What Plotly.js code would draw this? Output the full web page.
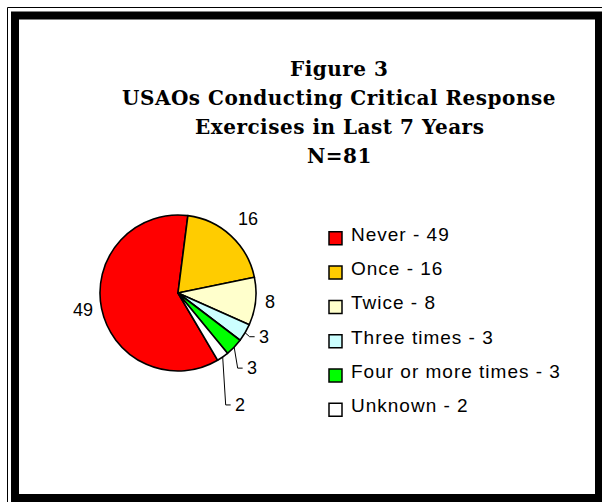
<!DOCTYPE html>
<html>
<head>
<meta charset="utf-8">
<script src="https://cdn.plot.ly/plotly-3.0.1.min.js"></script>
<style>
  html, body { margin: 0; padding: 0; background: #ffffff; }
  #chart { width: 602px; height: 502px; }
</style>
</head>
<body>
<div id="chart"></div>
<script>
// Survey responses: critical response exercises held in the last 7 years
const categories = ['Never', 'Once', 'Twice', 'Three times', 'Four or more times', 'Unknown'];
const counts = [49, 16, 8, 3, 3, 2];
const sliceColors = ['#FF0000', '#FFCC00', '#FFFFCC', '#CCFFFF', '#00FF00', '#FFFFFF'];
const titleLines = ['Figure 3', 'USAOs Conducting Critical Response', 'Exercises in Last 7 Years', 'N=81'];

// Page geometry (pixels)
const W = 602, H = 502;
const pie = { cx: 178, cy: 293, r: 78, rotation: 149.5 };
const labelGap = 7;
// elbow offsets for the leader lines of the thin slices (null = plain outside label)
const leaderElbows = [null, null, null, [4.5, 4], [3.5, 21], [3, 48]];

const total = counts.reduce((a, b) => a + b, 0);
const rad = d => d * Math.PI / 180;
const onRim = (deg, rr) => [pie.cx + rr * Math.sin(rad(deg)), pie.cy - rr * Math.cos(rad(deg))];
const spaced = (t, px) => `<span style="letter-spacing:${px}px">${t}</span>`;

const annotations = [];
const shapes = [];

// Frame: thin outer rule and heavy inner border
shapes.push({ type: 'rect', xref: 'x', yref: 'y', x0: 7.5, y0: 7.5, x1: 612, y1: 512,
  line: { color: '#000', width: 1 }, layer: 'above' });
shapes.push({ type: 'rect', xref: 'x', yref: 'y', x0: 15, y0: 15.5, x1: 599, y1: 498,
  line: { color: '#000', width: 8 }, layer: 'above' });

// Title
const titleFont = { family: 'DejaVu Serif', size: 20, color: '#000', weight: 'bold' };
const titleCenterX = 339, titleFirstY = 69, titleStep = 29;
titleLines.forEach((t, i) => {
  annotations.push({ xref: 'x', yref: 'y', x: titleCenterX, y: titleFirstY + i * titleStep,
    text: '<b>' + spaced(t, 0.5) + '</b>', showarrow: false, xanchor: 'center', yanchor: 'middle',
    font: titleFont });
});

// Slice value labels
const labelFont = { family: 'Liberation Sans, Arial, sans-serif', size: 18, color: '#000' };
let acc = 0;
counts.forEach((v, i) => {
  const mid = pie.rotation + (acc + v / 2) / total * 360;
  acc += v;
  const edge = onRim(mid, pie.r);
  const elbow = leaderElbows[i];
  if (elbow) {
    const ex = edge[0] + elbow[0], ey = edge[1] + elbow[1];
    shapes.push({ type: 'path', xref: 'x', yref: 'y',
      path: `M${edge[0]},${edge[1]} L${ex},${ey} L${ex + 5},${ey}`,
      line: { color: '#000', width: 1 }, layer: 'above' });
    annotations.push({ xref: 'x', yref: 'y', x: ex + 7, y: ey, text: String(v), showarrow: false,
      xanchor: 'left', yanchor: 'middle', font: labelFont });
  } else {
    const p = onRim(mid, pie.r + labelGap);
    const dx = Math.sin(rad(mid)), dy = -Math.cos(rad(mid));
    annotations.push({ xref: 'x', yref: 'y', x: p[0], y: p[1], text: String(v), showarrow: false,
      xanchor: dx > 0.3 ? 'left' : (dx < -0.3 ? 'right' : 'center'),
      yanchor: dy < -0.3 ? 'bottom' : (dy > 0.3 ? 'top' : 'middle'), font: labelFont });
  }
});

// Legend
const legendFont = { family: 'Liberation Sans, Arial, sans-serif', size: 19, color: '#000' };
const legend = { boxX: 335.5, firstY: 238.3, step: 34.3, box: 13, textX: 349 };
categories.forEach((c, i) => {
  const y = legend.firstY + i * legend.step;
  shapes.push({ type: 'rect', xref: 'x', yref: 'y',
    x0: legend.boxX - legend.box / 2, x1: legend.boxX + legend.box / 2,
    y0: y - legend.box / 2, y1: y + legend.box / 2,
    fillcolor: sliceColors[i], line: { color: '#000', width: 1.5 }, layer: 'above' });
  annotations.push({ xref: 'x', yref: 'y', x: legend.textX, y: y - 4,
    text: spaced(c + ' - ' + counts[i], 1), showarrow: false, xanchor: 'left', yanchor: 'middle',
    font: legendFont });
});

const traces = [
  { type: 'scatter', x: [], y: [], showlegend: false, hoverinfo: 'skip' },
  { type: 'pie', labels: categories, values: counts, sort: false, direction: 'clockwise',
    rotation: pie.rotation, textinfo: 'none', hoverinfo: 'label+value', showlegend: false,
    marker: { colors: sliceColors, line: { color: '#000', width: 1.6 } },
    domain: { x: [(pie.cx - pie.r) / W, (pie.cx + pie.r) / W],
              y: [1 - (pie.cy + pie.r) / H, 1 - (pie.cy - pie.r) / H] } }
];

const layout = {
  width: W, height: H, margin: { l: 0, r: 0, t: 0, b: 0 },
  paper_bgcolor: '#ffffff', plot_bgcolor: 'rgba(0,0,0,0)', showlegend: false,
  xaxis: { range: [0, W], visible: false, fixedrange: true },
  yaxis: { range: [H, 0], visible: false, fixedrange: true },
  shapes: shapes, annotations: annotations
};

Plotly.newPlot('chart', traces, layout, { displayModeBar: false, staticPlot: true });
</script>
</body>
</html>
